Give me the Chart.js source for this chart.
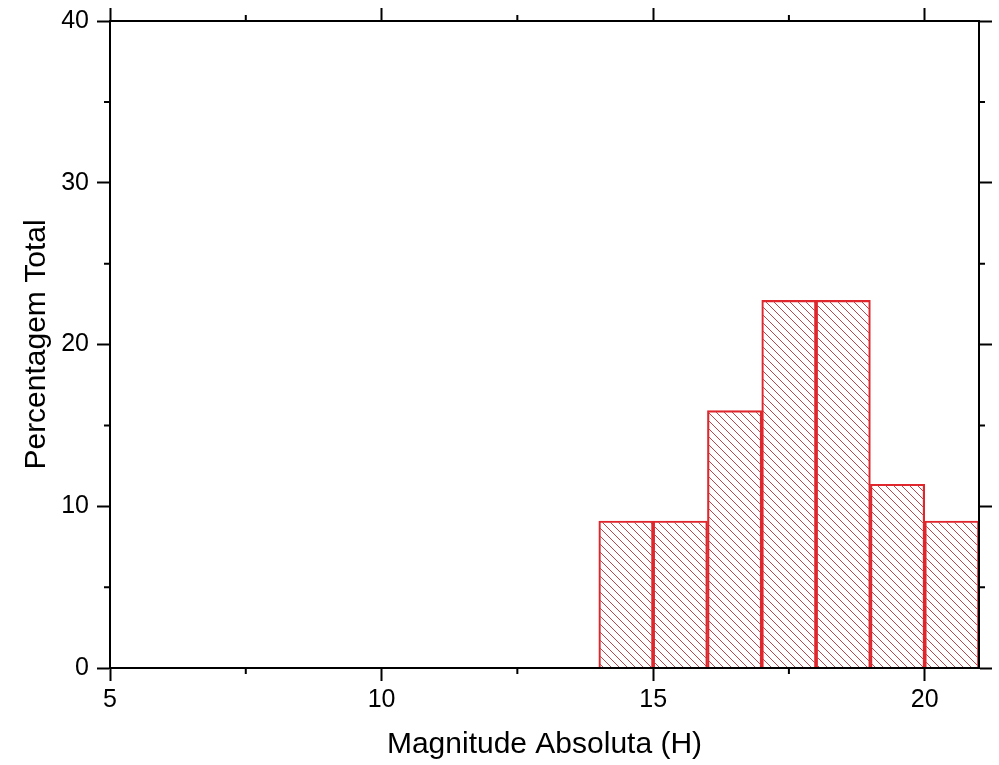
<!DOCTYPE html>
<html>
<head>
<meta charset="utf-8">
<script src="https://cdn.jsdelivr.net/npm/chart.js@4.4.1/dist/chart.umd.min.js"></script>
<style>
  body { margin: 0; background: #fff; }
  canvas { display: block; }
</style>
</head>
<body>
<canvas id="histChart" width="999" height="765"></canvas>
<script>
// histogram bins (left edge) and % of total
const binStart = [14, 15, 16, 17, 18, 19, 20];
const percent = [9.09, 9.09, 15.91, 22.73, 22.73, 11.36, 9.09];
const xMajor = [5, 10, 15, 20];
const xMinor = [7.5, 12.5, 17.5];
const yMajor = [0, 10, 20, 30, 40];
const yMinor = [5, 15, 25, 35];

const RED = '#e0262c';
const FONT = 'Arial, "Liberation Sans", sans-serif';

function hatch(color, size) {
  const c = document.createElement('canvas');
  c.width = size;
  c.height = size;
  const g = c.getContext('2d');
  g.strokeStyle = color;
  g.lineWidth = 1;
  g.beginPath();
  for (const o of [-size, 0, size]) {
    g.moveTo(o, 0);
    g.lineTo(o + size, size);
  }
  g.stroke();
  return g.createPattern(c, 'repeat');
}

// short minor ticks on all four sides, pointing outward
const minorTicks = {
  id: 'minorTicks',
  afterDraw(chart) {
    const { ctx, chartArea: a, scales } = chart;
    ctx.save();
    ctx.strokeStyle = '#000';
    ctx.lineWidth = 2;
    ctx.beginPath();
    xMinor.forEach(v => {
      const px = scales.x.getPixelForValue(v);
      ctx.moveTo(px, a.bottom); ctx.lineTo(px, a.bottom + 6);
      ctx.moveTo(px, a.top); ctx.lineTo(px, a.top - 6);
    });
    yMinor.forEach(v => {
      const py = scales.y.getPixelForValue(v);
      ctx.moveTo(a.left, py); ctx.lineTo(a.left - 6, py);
      ctx.moveTo(a.right, py); ctx.lineTo(a.right + 6, py);
    });
    ctx.stroke();
    ctx.restore();
  }
};

const setTicks = values => scale => {
  scale.ticks = values.map(v => ({ value: v }));
};

const axisBase = {
  offset: false,
  border: { display: true, color: '#000', width: 2, z: 1 },
  grid: { offset: false, drawOnChartArea: false, color: '#000', tickColor: '#000', tickWidth: 2, tickLength: 13 },
};

const ctx = document.getElementById('histChart').getContext('2d');

new Chart(ctx, {
  type: 'bar',
  data: {
    datasets: [{
      data: binStart.map((b, i) => ({ x: b + 0.5, y: percent[i] })),
      backgroundColor: hatch('#b9474c', 8),
      borderColor: RED,
      borderWidth: 1.5,
      barPercentage: 1,
      categoryPercentage: 1,
    }],
  },
  options: {
    responsive: false,
    animation: false,
    events: [],
    layout: { padding: 0 },
    plugins: { legend: { display: false }, tooltip: { enabled: false } },
    scales: {
      x: {
        ...axisBase,
        type: 'linear',
        position: 'bottom',
        min: 5,
        max: 21,
        afterBuildTicks: setTicks(xMajor),
        afterFit: s => { s.height = 97; s.paddingLeft = 0; s.paddingRight = 0; },
        ticks: { color: '#000', font: { family: FONT, size: 25 }, padding: 4, maxRotation: 0 },
        title: {
          display: true,
          text: 'Magnitude Absoluta (H)',
          color: '#000',
          font: { family: FONT, size: 30 },
          padding: { top: 0, bottom: 2 },
        },
      },
      x2: {
        ...axisBase,
        type: 'linear',
        position: 'top',
        min: 5,
        max: 21,
        afterBuildTicks: setTicks(xMajor),
        afterFit: s => { s.height = 21; },
        ticks: { callback: () => '' },
      },
      y: {
        ...axisBase,
        position: 'left',
        min: 0,
        max: 40,
        afterBuildTicks: setTicks(yMajor),
        afterFit: s => { s.width = 110; s.paddingTop = 0; s.paddingBottom = 0; },
        ticks: { color: '#000', font: { family: FONT, size: 25 }, padding: 8 },
        title: {
          display: true,
          text: 'Percentagem Total',
          color: '#000',
          font: { family: FONT, size: 30 },
          padding: { top: 19, bottom: 0 },
        },
      },
      y2: {
        ...axisBase,
        position: 'right',
        min: 0,
        max: 40,
        afterBuildTicks: setTicks(yMajor),
        afterFit: s => { s.width = 20; s.paddingTop = 0; s.paddingBottom = 0; },
        ticks: { callback: () => '' },
      },
    },
  },
  plugins: [minorTicks],
});
</script>
</body>
</html>
